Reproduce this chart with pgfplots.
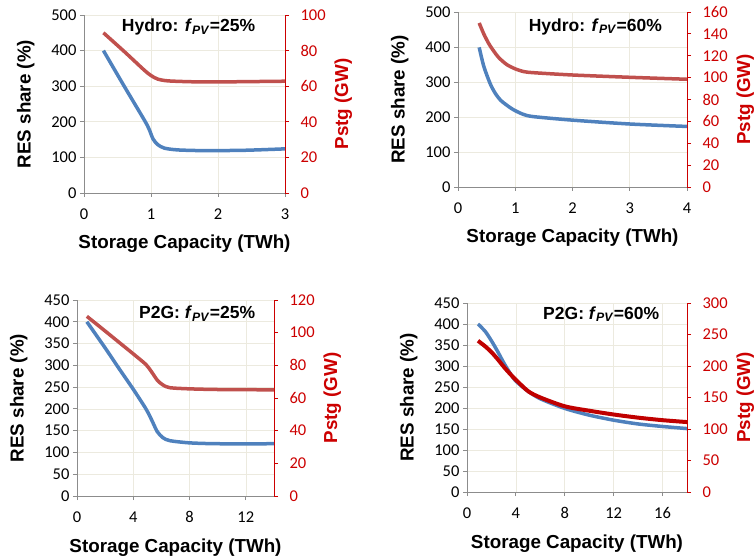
\documentclass[border=0pt]{standalone}
\usepackage{fontspec}
\setmainfont{Liberation Sans}
\newfontfamily\tickfont{Carlito}
\usepackage{pgfplots}
\pgfplotsset{compat=1.18}

\definecolor{blueline}{HTML}{4F81BD}
\definecolor{redline}{HTML}{C0504D}
\definecolor{darkred}{HTML}{C00000}
\definecolor{labred}{HTML}{CC0000}
\definecolor{axgray}{HTML}{8C8C8C}
\definecolor{gridc}{HTML}{ECEADF}

\tikzset{ttl/.style={font=\bfseries\fontsize{17.5}{20}\selectfont}}

\pgfplotsset{
  base/.style={
    scale only axis, xmin=0, ymin=0,
    /pgf/number format/assume math mode=true,
    tick label style={font=\tickfont\fontsize{16.5}{18}\selectfont},
    label style={font=\bfseries\fontsize{18.8}{21}\selectfont},
    tick align=outside, major tick length=4pt,
  },
  leftax/.style={
    base,
    axis y line*=left, axis x line*=bottom,
    axis line style={axgray, line width=0.8pt, -},
    tick style={axgray, line width=0.8pt},
    xmajorgrids, ymajorgrids,
    grid style={gridc, line width=0.6pt},
    xticklabel shift=8pt, xlabel shift=9pt, ylabel shift=10pt,
    ylabel={RES share (\%)},
    xlabel={Storage Capacity (TWh)},
  },
  rightax/.style={
    base,
    axis y line*=right, axis x line=none,
    axis line style={labred, line width=1pt, -},
    tick style={labred, line width=0.8pt},
    yticklabel style={text=labred},
    yticklabel shift=8pt, ylabel shift=2pt,
    ylabel={Pstg (GW)},
    ylabel style={text=labred},
  },
  res/.style={blueline, line width=3.5pt, smooth, tension=0.45, no marks},
  pst/.style={redline, line width=3.5pt, smooth, tension=0.45, no marks},
}

\begin{document}
\begin{tikzpicture}[x=1pt,y=1pt]
\useasboundingbox (0,0) rectangle (755,557);

% ---- Hydro, fPV = 25%
\begin{axis}[leftax, at={(84pt,364pt)}, anchor=south west,
    width=201pt, height=178pt, xmax=3, ymax=500,
    xtick={0,1,2,3}, ytick={0,100,...,500}]
  \addplot[res] coordinates {
    (0.29,400)(0.6,300)(0.9,205)(0.97,180)(1.03,152)(1.1,136)(1.2,126)
    (1.4,121)(1.8,119)(2.4,120)(3,124)
  };
  \node[ttl] at (rel axis cs:0.52,0.93)
    {Hydro: \textit{f}\textsubscript{\textit{PV}}=25\%};
\end{axis}
\begin{axis}[rightax, at={(84pt,364pt)}, anchor=south west,
    width=201pt, height=178pt, xmax=3, ymax=100,
    ytick={0,20,...,100}]
  \addplot[pst] coordinates {
    (0.29,90)(0.6,79.5)(0.9,69)(1.0,66)(1.1,64)(1.25,63)(1.6,62.5)(2,62.4)(3,62.8)
  };
\end{axis}

% ---- Hydro, fPV = 60%
\begin{axis}[leftax, at={(458pt,370pt)}, anchor=south west,
    width=229pt, height=175pt, xmax=4, ymax=500,
    xtick={0,1,2,3,4}, ytick={0,100,...,500}]
  \addplot[res] coordinates {
    (0.37,399)(0.45,345)(0.56,296)(0.65,268)(0.75,247)(0.9,228)(1.0,218)
    (1.15,207)(1.32,201)(2,191)(3,180)(4,173)
  };
  \node[ttl] at (rel axis cs:0.60,0.915)
    {Hydro: \textit{f}\textsubscript{\textit{PV}}=60\%};
\end{axis}
\begin{axis}[rightax, at={(458pt,370pt)}, anchor=south west,
    width=229pt, height=175pt, xmax=4, ymax=160,
    ytick={0,20,...,160}]
  \addplot[pst] coordinates {
    (0.37,150)(0.45,140)(0.55,130)(0.7,119)(0.85,112)(1.0,108)(1.15,105.5)
    (1.32,104.5)(2,102.4)(3,100.3)(4,98.5)
  };
\end{axis}

% ---- P2G, fPV = 25%
\begin{axis}[leftax, at={(77pt,61pt)}, anchor=south west,
    width=197pt, height=196pt, xmax=14, ymax=450,
    xtick={0,4,8,12}, ytick={0,50,...,450}]
  \addplot[res] coordinates {
    (0.7,400)(2,340)(3,292)(4,245)(4.9,200)(5.3,175)(5.7,148)(6.1,134)
    (6.6,127)(8,122)(10,120)(14,120)
  };
  \node[ttl] at (rel axis cs:0.61,0.93)
    {P2G: \textit{f}\textsubscript{\textit{PV}}=25\%};
\end{axis}
\begin{axis}[rightax, at={(77pt,61pt)}, anchor=south west,
    width=197pt, height=196pt, xmax=14, ymax=120,
    ytick={0,20,...,120}]
  \addplot[pst] coordinates {
    (0.7,110)(2,101)(3,94)(4,87)(4.9,80.5)(5.3,76)(5.7,71)(6.1,68)
    (6.6,66.3)(8,65.6)(10,65.2)(14,65)
  };
\end{axis}

% ---- P2G, fPV = 60%
\begin{axis}[leftax, at={(467pt,65pt)}, anchor=south west,
    width=220pt, height=189pt, xmax=18, ymax=450,
    xtick={0,4,8,12,16}, ytick={0,50,...,450}]
  \addplot[res] coordinates {
    (0.9,400)(1.5,382)(2,360)(2.5,335)(3,308)(3.5,284)(4,264)(5,240)(6,222)
    (8,199)(10,183)(12,171)(14,162)(16,156)(18,151)
  };
  \node[ttl] at (rel axis cs:0.61,0.94)
    {P2G: \textit{f}\textsubscript{\textit{PV}}=60\%};
\end{axis}
\begin{axis}[rightax, at={(467pt,65pt)}, anchor=south west,
    width=220pt, height=189pt, xmax=18, ymax=300,
    ytick={0,50,...,300}]
  \addplot[darkred, line width=4pt, smooth, tension=0.45, no marks] coordinates {
    (0.9,240)(1.5,231)(2,222)(2.5,211)(3,199)(3.5,188)(4,178)(5,160)(6,150)
    (8,136)(10,129)(12,123)(14,118)(16,114)(18,111)
  };
\end{axis}
\end{tikzpicture}
\end{document}
